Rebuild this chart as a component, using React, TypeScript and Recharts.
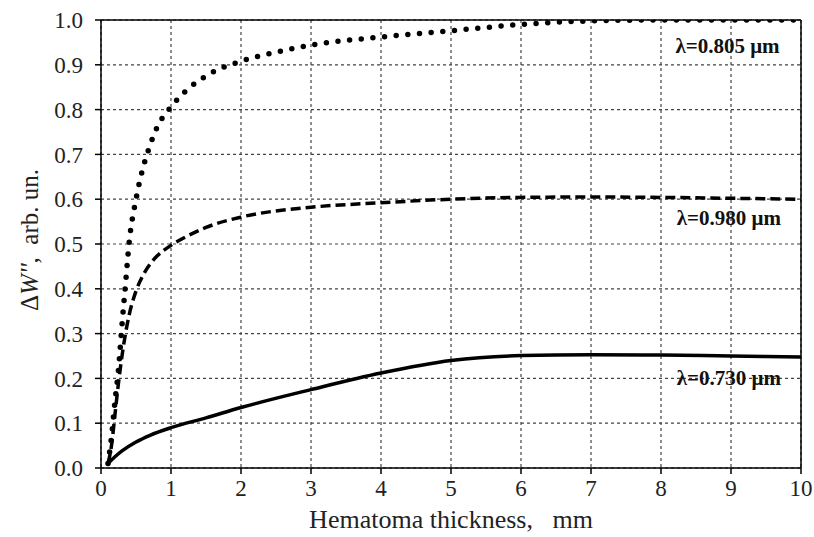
import { CartesianGrid, Line, LineChart, ReferenceDot, ReferenceLine, XAxis, YAxis } from "recharts";

// λ = 0.805 µm (dotted)
const x805 = [0.1, 0.15, 0.2, 0.25, 0.3, 0.35, 0.4, 0.5, 0.6, 0.7, 0.8, 1.0, 1.2, 1.5, 2, 2.5, 3, 4, 5, 6, 7, 8, 9, 10];
const y805 = [0.01, 0.07, 0.15, 0.22, 0.32, 0.41, 0.5, 0.6, 0.67, 0.72, 0.76, 0.806, 0.84, 0.875, 0.908, 0.928, 0.944, 0.962, 0.976, 0.99, 0.998, 1.0, 1.0, 1.0];

// λ = 0.980 µm (dashed)
const x980 = [0.1, 0.15, 0.2, 0.25, 0.3, 0.35, 0.4, 0.5, 0.6, 0.7, 0.8, 1.0, 1.2, 1.5, 2, 3, 4, 5, 6, 7, 8, 9, 10];
const y980 = [0.01, 0.05, 0.12, 0.19, 0.25, 0.3, 0.34, 0.395, 0.43, 0.455, 0.473, 0.497, 0.515, 0.537, 0.56, 0.582, 0.592, 0.6, 0.604, 0.605, 0.604, 0.602, 0.6];

// λ = 0.730 µm (solid)
const x730 = [0.1, 0.2, 0.3, 0.5, 0.7, 1, 1.5, 2, 3, 4, 5, 6, 7, 8, 9, 10];
const y730 = [0.01, 0.025, 0.038, 0.058, 0.073, 0.09, 0.112, 0.135, 0.175, 0.212, 0.24, 0.251, 0.253, 0.252, 0.25, 0.248];

const xTicks = [0, 1, 2, 3, 4, 5, 6, 7, 8, 9, 10];
const yTicks = [0, 0.1, 0.2, 0.3, 0.4, 0.5, 0.6, 0.7, 0.8, 0.9, 1.0];

const labels = [
  { x: 8.95, y: 0.942, text: "λ=0.805 μm" },
  { x: 8.97, y: 0.558, text: "λ=0.980 μm" },
  { x: 8.97, y: 0.203, text: "λ=0.730 μm" },
];

const toPoints = (xs: number[], ys: number[]) => xs.map((x, i) => ({ x, y: ys[i] }));

const serif = "Liberation Serif";

function YTitle({ viewBox }: any) {
  const cx = 29;
  const cy = viewBox.y + viewBox.height / 2 - 4;
  return (
    <text x={cx} y={cy} transform={`rotate(-90 ${cx} ${cy})`} textAnchor="middle" dominantBaseline="central" style={{ fontFamily: serif, fontSize: 25 }} fill="#222">
      Δ<tspan fontStyle="italic">W''</tspan>,{"\u00a0\u00a0"}arb. un.
    </text>
  );
}

export default function App() {
  return (
    <div style={{ position: "absolute", left: 0, top: 0, background: "#fff", fontFamily: serif }}>
      <LineChart width={814} height={537} margin={{ top: 20, right: 13, bottom: 25, left: 31 }} style={{ fontFamily: serif }}>
        <CartesianGrid stroke="#444" strokeDasharray="3 3" strokeWidth={1.2} />
        <XAxis
          type="number"
          dataKey="x"
          domain={[0, 10]}
          ticks={xTicks}
          allowDataOverflow
          stroke="#000"
          strokeWidth={1.5}
          tickSize={6}
          tick={{ fontSize: 23, fill: "#222", style: { fontFamily: serif } }}
          tickMargin={6}
          height={44}
          label={{ value: "Hematoma thickness,\u00a0\u00a0\u00a0mm", position: "insideBottom", offset: -16, fontSize: 26, fill: "#222", style: { fontFamily: serif } }}
        />
        <YAxis
          type="number"
          domain={[0, 1]}
          ticks={yTicks}
          allowDataOverflow
          width={70}
          stroke="#000"
          strokeWidth={1.5}
          tickSize={6}
          tickMargin={12}
          tickFormatter={(v: number) => v.toFixed(1)}
          tick={{ fontSize: 23, fill: "#222", style: { fontFamily: serif } }}
          label={<YTitle />}
        />
        <ReferenceLine y={1} stroke="#000" strokeWidth={1.5} />
        <ReferenceLine x={10} stroke="#000" strokeWidth={1.5} />
        <Line
          data={toPoints(x805, y805)}
          dataKey="y"
          type="monotone"
          stroke="#000"
          strokeWidth={5.5}
          strokeDasharray="0 11.7"
          strokeLinecap="round"
          dot={false}
          isAnimationActive={false}
        />
        <Line
          data={toPoints(x980, y980)}
          dataKey="y"
          type="monotone"
          stroke="#000"
          strokeWidth={3.5}
          strokeDasharray="10 5"
          dot={false}
          isAnimationActive={false}
        />
        <Line
          data={toPoints(x730, y730)}
          dataKey="y"
          type="monotone"
          stroke="#000"
          strokeWidth={3.5}
          dot={false}
          isAnimationActive={false}
        />
        {labels.map((l) => (
          <ReferenceDot
            key={l.text}
            x={l.x}
            y={l.y}
            r={0}
            stroke="none"
            label={{ value: l.text, position: "center", fontSize: 21, fontWeight: "bold", fill: "#111", style: { fontFamily: serif } }}
          />
        ))}
      </LineChart>
    </div>
  );
}
